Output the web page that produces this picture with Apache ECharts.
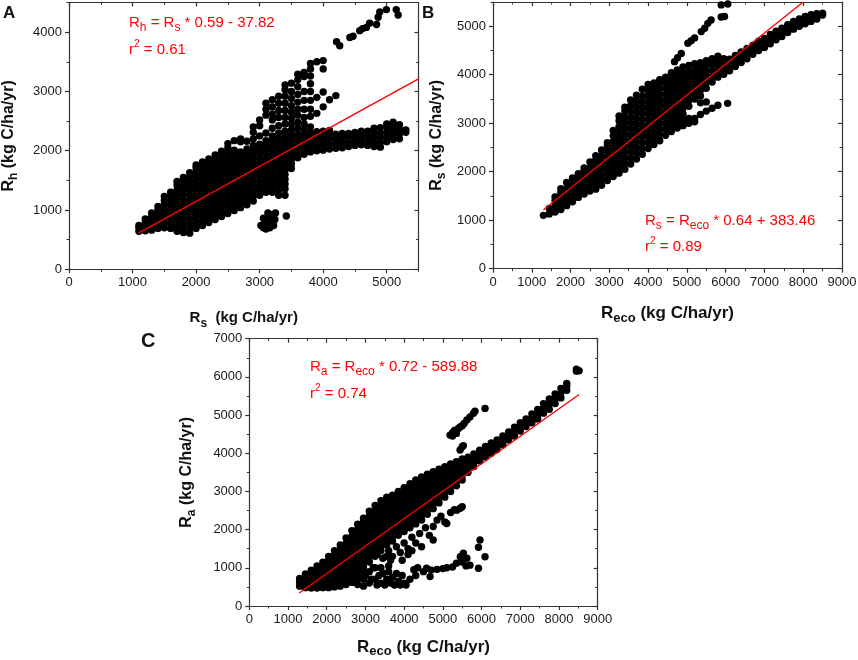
<!DOCTYPE html>
<html><head><meta charset="utf-8">
<script src="https://cdn.jsdelivr.net/npm/echarts@6/dist/echarts.min.js"></script>
<style>html,body{margin:0;padding:0;background:#fff}#c{width:858px;height:660px}</style>
</head><body><div id="c"></div>
<script>
// ---------- tick labels ----------
const aXTicks = [0, 1000, 2000, 3000, 4000, 5000];
const aYTicks = [0, 1000, 2000, 3000, 4000];
const bXTicks = [0, 1000, 2000, 3000, 4000, 5000, 6000, 7000, 8000, 9000];
const bYTicks = [0, 1000, 2000, 3000, 4000, 5000];
const cXTicks = [0, 1000, 2000, 3000, 4000, 5000, 6000, 7000, 8000, 9000];
const cYTicks = [0, 1000, 2000, 3000, 4000, 5000, 6000, 7000];

// ---------- Panel A : Rs (x) vs Rh (y); columns [x, y, y, ...] ----------
const aMain = [
 [1100, 640, 700, 740],
 [1200, 650, 720, 790, 850],
 [1300, 660, 730, 800, 880, 950],
 [1400, 690, 760, 840, 920, 1000, 1060],
 [1500, 700, 780, 860, 940, 1010, 1090, 1160, 1230],
 [1600, 690, 770, 850, 920, 1000, 1080, 1150, 1230, 1300],
 [1700, 640, 720, 800, 880, 950, 1030, 1110, 1190, 1270, 1340, 1420, 1480],
 [1800, 620, 700, 780, 860, 940, 1020, 1100, 1180, 1260, 1340, 1410, 1490, 1550],
 [1900, 610, 690, 770, 850, 930, 1010, 1090, 1170, 1250, 1330, 1410, 1480, 1560, 1630],
 [2000, 690, 770, 850, 930, 1000, 1080, 1160, 1240, 1320, 1400, 1470, 1550, 1630, 1710, 1760],
 [2100, 740, 820, 900, 980, 1060, 1140, 1210, 1290, 1370, 1450, 1530, 1600, 1680, 1760, 1810],
 [2200, 790, 870, 950, 1030, 1110, 1190, 1260, 1340, 1420, 1500, 1580, 1650, 1730, 1810, 1860],
 [2300, 840, 920, 1000, 1080, 1160, 1240, 1310, 1390, 1470, 1550, 1630, 1700, 1780, 1860, 1930],
 [2400, 890, 970, 1050, 1130, 1210, 1290, 1360, 1440, 1520, 1600, 1680, 1750, 1830, 1910, 1990],
 [2500, 940, 1020, 1100, 1180, 1260, 1340, 1410, 1490, 1570, 1650, 1730, 1800, 1880, 1960, 2050, 2120],
 [2600, 990, 1070, 1150, 1230, 1310, 1390, 1460, 1540, 1620, 1700, 1780, 1850, 1930, 2010, 2170],
 [2700, 1040, 1120, 1200, 1280, 1360, 1440, 1510, 1590, 1670, 1750, 1830, 1900, 1980, 2150, 2200],
 [2800, 1090, 1170, 1250, 1330, 1410, 1490, 1560, 1640, 1720, 1800, 1880, 1950, 2030, 2160],
 [2900, 1150, 1230, 1310, 1390, 1470, 1550, 1620, 1700, 1780, 1860, 1940, 2010, 2090, 2200],
 [3000, 1250, 1330, 1410, 1490, 1570, 1640, 1720, 1800, 1880, 1960, 2040, 2110, 2250],
 [3100, 1300, 1380, 1460, 1540, 1620, 1700, 1770, 1850, 1930, 2010, 2090, 2170, 2300],
 [3200, 1300, 1380, 1460, 1540, 1620, 1700, 1780, 1850, 1930, 2010, 2090, 2170, 2250, 2380],
 [3300, 1250, 1330, 1410, 1490, 1570, 1650, 1730, 1810, 1880, 1960, 2040, 2120, 2200, 2300, 2420],
 [3400, 1250, 1360, 1440, 1520, 1600, 1680, 1760, 1840, 1920, 2000, 2080, 2160, 2240, 2330, 2450, 2560],
 [3500, 1700, 1780, 1860, 1940, 2020, 2100, 2180, 2260, 2350, 2450, 2550, 2650],
 [3600, 1880, 1960, 2040, 2120, 2200, 2280, 2380, 2480, 2600, 2700],
 [3700, 1940, 2020, 2100, 2180, 2260, 2350, 2450, 2560],
 [3800, 1980, 2060, 2140, 2220, 2300, 2400, 2580],
 [3900, 2000, 2080, 2160, 2240, 2320, 2630],
 [4000, 2010, 2090, 2170, 2250, 2330, 2740],
 [4100, 2030, 2110, 2190, 2270, 2340, 2860],
 [4200, 2040, 2120, 2200, 2280, 2930],
 [4300, 2050, 2130, 2210, 2290],
 [4400, 2070, 2150, 2230, 2290],
 [4500, 2090, 2170, 2250, 2310],
 [4600, 2100, 2180, 2260, 2330],
 [4700, 2090, 2170, 2250, 2330],
 [4800, 2070, 2150, 2230, 2310, 2380],
 [4900, 2060, 2140, 2220, 2300, 2390],
 [5000, 2150, 2230, 2310, 2400, 2450],
 [5100, 2190, 2270, 2350, 2430, 2480],
 [5200, 2200, 2280, 2360, 2440],
 [5300, 2310, 2350]
];
const aBranch = [
 [2900, 2310, 2400],
 [3000, 2420, 2520],
 [3100, 2600, 2700, 2800],
 [3200, 2520, 2620, 2740, 2860],
 [3300, 2560, 2680, 2800, 2920],
 [3400, 2680, 2800, 2920, 3030, 3110],
 [3500, 2760, 2880, 3000, 3140],
 [3600, 2820, 2950, 3080, 3200, 3290],
 [3700, 2700, 2850, 3000, 3250, 3320],
 [3800, 2700, 2850, 3000, 3130, 3260, 3380, 3470],
 [3900, 2900, 3500],
 [4000, 2990, 3380, 3520]
];
const aUpper = [[4210,3840],[4260,3770],[4420,3910],[4470,3930],[4575,4025],[4620,4060],[4680,4080],
 [4730,4150],[4840,4130],[4865,4250],[4890,4340],[4995,4380],[5150,4380],[5180,4290]];
const aLow = [[3020,740],[3060,700],[3080,800],[3100,680],[3120,760],[3140,880],[3160,700],[3180,800],
 [3200,920],[3220,740],[3240,840],[3250,950],[3130,950],[3060,860],[3420,900]];
const aFit = [[1100, 615], [5500, 3210]];

// ---------- Panel B : Reco (x) vs Rs (y) ----------
const bMain = [
 [1300, 1100],
 [1450, 1130, 1240],
 [1600, 1170, 1290, 1400, 1480],
 [1750, 1220, 1340, 1460, 1570, 1650],
 [1900, 1300, 1420, 1540, 1660, 1780],
 [2050, 1380, 1500, 1620, 1740, 1870],
 [2200, 1470, 1590, 1710, 1830, 1960],
 [2350, 1540, 1660, 1780, 1900, 2020, 2080],
 [2500, 1600, 1720, 1840, 1960, 2080, 2200],
 [2650, 1640, 1760, 1880, 2000, 2120, 2240, 2330],
 [2800, 1720, 1840, 1960, 2080, 2200, 2320, 2450],
 [2950, 1820, 1940, 2060, 2180, 2300, 2420, 2540, 2600],
 [3100, 1900, 2020, 2140, 2260, 2380, 2500, 2620, 2740, 2850],
 [3250, 1970, 2090, 2210, 2330, 2450, 2570, 2690, 2810, 2930, 3050, 3150],
 [3400, 2050, 2170, 2290, 2410, 2530, 2650, 2770, 2890, 3010, 3130, 3250, 3330],
 [3550, 2160, 2280, 2400, 2520, 2640, 2760, 2880, 3000, 3120, 3240, 3360, 3480],
 [3700, 2260, 2380, 2500, 2620, 2740, 2860, 2980, 3100, 3220, 3340, 3460, 3580],
 [3850, 2360, 2480, 2600, 2720, 2840, 2960, 3080, 3200, 3320, 3440, 3560, 3700],
 [4000, 2480, 2600, 2720, 2840, 2960, 3080, 3200, 3320, 3440, 3560, 3680, 3800],
 [4150, 2560, 2680, 2800, 2920, 3040, 3160, 3280, 3400, 3520, 3640, 3760, 3830],
 [4300, 2640, 2760, 2880, 3000, 3120, 3240, 3360, 3480, 3600, 3720, 3840, 3900],
 [4450, 2750, 2870, 2990, 3110, 3230, 3350, 3470, 3590, 3710, 3830, 3950],
 [4600, 2830, 2950, 3070, 3190, 3310, 3430, 3550, 3670, 3790, 3910, 4040],
 [4750, 2900, 3020, 3140, 3260, 3380, 3500, 3620, 3740, 3860, 3980, 4100],
 [4900, 2950, 3070, 3190, 3310, 3430, 3550, 3670, 3790, 3910, 4030, 4160],
 [5050, 3000, 3100, 3350, 3470, 3590, 3710, 3830, 3950, 4070, 4190],
 [5200, 3030, 3100, 3500, 3620, 3740, 3860, 3980, 4100, 4230],
 [5350, 3180, 3420, 3560, 3680, 3800, 3920, 4040, 4160, 4250],
 [5500, 3250, 3440, 3720, 3840, 3960, 4080, 4200, 4290],
 [5650, 3310, 3850, 3970, 4090, 4210, 4330],
 [5800, 3370, 3950, 4070, 4190, 4300, 4380],
 [5950, 4010, 4130, 4250, 4330],
 [6050, 3410],
 [6100, 4080, 4200, 4320],
 [6250, 4170, 4290, 4400],
 [6400, 4250, 4370, 4470],
 [6550, 4330, 4440, 4540],
 [6700, 4420, 4520, 4610],
 [6850, 4500, 4600, 4690],
 [7000, 4560, 4660, 4750],
 [7150, 4640, 4740, 4830],
 [7300, 4720, 4810, 4900],
 [7450, 4790, 4880, 4960],
 [7600, 4870, 4960, 5030],
 [7750, 4940, 5020, 5100],
 [7900, 5000, 5080, 5150],
 [8050, 5050, 5130, 5200],
 [8200, 5100, 5170, 5240],
 [8350, 5150, 5220, 5260],
 [8500, 5230, 5270]
];
const bUpper = [[4680,4270],[4760,4350],[4855,4440],[5025,4650],[5110,4700],[5200,4760],[5370,4890],
 [5460,4960],[5540,5060],[5625,5130],[5885,5190],[5970,5200],[5885,5440],[6055,5460]];
const bFit = [[1300, 1215], [8000, 5500]];

// ---------- Panel C : Reco (x) vs Ra (y) ----------
const cMain = [
 [1300, 520, 620, 720],
 [1450, 480, 600, 720, 840],
 [1600, 470, 590, 710, 830, 940],
 [1750, 470, 590, 710, 830, 950, 1050],
 [1900, 480, 600, 720, 840, 960, 1080, 1150],
 [2050, 480, 600, 720, 840, 960, 1080, 1200, 1300],
 [2200, 500, 620, 740, 860, 980, 1100, 1220, 1340, 1450],
 [2350, 520, 640, 760, 880, 1000, 1120, 1240, 1360, 1480, 1600],
 [2500, 560, 680, 800, 920, 1040, 1160, 1280, 1400, 1520, 1640, 1780],
 [2650, 620, 740, 860, 980, 1100, 1220, 1340, 1460, 1580, 1700, 1820, 1970],
 [2800, 560, 700, 820, 940, 1060, 1180, 1300, 1420, 1540, 1660, 1780, 1900, 2020, 2140],
 [2950, 520, 700, 860, 1000, 1120, 1240, 1360, 1480, 1600, 1720, 1840, 1960, 2080, 2200, 2300],
 [3100, 600, 900, 1150, 1270, 1390, 1510, 1630, 1750, 1870, 1990, 2110, 2230, 2350, 2480],
 [3250, 1000, 1300, 1420, 1540, 1660, 1780, 1900, 2020, 2140, 2260, 2380, 2500, 2630],
 [3400, 1450, 1570, 1690, 1810, 1930, 2050, 2170, 2290, 2410, 2530, 2650, 2760],
 [3550, 1600, 1720, 1840, 1960, 2080, 2200, 2320, 2440, 2560, 2680, 2800, 2850],
 [3700, 1700, 1820, 1940, 2060, 2180, 2300, 2420, 2540, 2660, 2780, 2900],
 [3850, 1850, 1970, 2090, 2210, 2330, 2450, 2570, 2690, 2810, 2930, 3000],
 [4000, 1950, 2070, 2190, 2310, 2430, 2550, 2670, 2790, 2910, 3030, 3100],
 [4150, 2050, 2170, 2290, 2410, 2530, 2650, 2770, 2890, 3010, 3130, 3200],
 [4300, 2150, 2270, 2390, 2510, 2630, 2750, 2870, 2990, 3110, 3230, 3300],
 [4450, 2250, 2370, 2490, 2610, 2730, 2850, 2970, 3090, 3210, 3330, 3380],
 [4600, 2400, 2520, 2640, 2760, 2880, 3000, 3120, 3240, 3360, 3450],
 [4750, 2550, 2670, 2790, 2910, 3030, 3150, 3270, 3390, 3520],
 [4900, 2700, 2820, 2940, 3060, 3180, 3300, 3420, 3580],
 [5050, 2850, 2970, 3090, 3210, 3330, 3450, 3550, 3650],
 [5200, 3000, 3120, 3240, 3360, 3480, 3600, 3720],
 [5350, 3150, 3270, 3390, 3510, 3630, 3780],
 [5500, 3300, 3420, 3540, 3660, 3780, 3850],
 [5650, 3500, 3620, 3740, 3900],
 [5800, 3650, 3770, 3880, 3980],
 [5950, 3800, 3920, 4030, 4080],
 [6100, 3900, 4020, 4120, 4180],
 [6250, 4000, 4120, 4220, 4270],
 [6400, 4100, 4220, 4350],
 [6550, 4220, 4340, 4450],
 [6700, 4350, 4460, 4560],
 [6850, 4450, 4570, 4680],
 [7000, 4580, 4690, 4800],
 [7150, 4700, 4800, 4900],
 [7300, 4800, 4920, 5030],
 [7450, 4900, 5030, 5150],
 [7600, 5050, 5180, 5300],
 [7750, 5150, 5290, 5420],
 [7900, 5300, 5430, 5550],
 [8050, 5450, 5580, 5700],
 [8200, 5650, 5760, 5830],
 [8450, 6150, 6200],
 [8520, 6160]
];
const cBelow = [[3300,1350],[3450,1250],[3550,1300],[3600,1450],[3650,1200],[3700,1300],[3800,1550],
 [3900,1400],[3950,1200],[4000,1650],[4100,1500],[4100,1350],[4200,1800],[4200,1450],[4300,1650],
 [4400,1900],[4450,1550],[4550,2050],[4650,1850],[4750,1730],[4750,2080],[4850,2250],[4950,2350],
 [5050,2200],[5100,2160],[5200,2450],[5300,2520],[5360,2510],[5450,2560],[5500,2600]];
const cLow = [[2700,620],[2850,760],[3000,800],[3150,700],[3200,1000],[3250,700],[3300,550],[3350,800],
 [3400,600],[3400,1000],[3450,850],[3500,550],[3550,700],[3600,900],[3600,1050],[3650,600],[3700,750],
 [3750,550],[3800,850],[3850,650],[3900,550],[3950,800],[4000,600],[4050,550],[4150,700],[4250,950],
 [4300,800],[4350,1000],[4500,900],[4580,990],[4670,770],[4700,940],[4850,960],[5000,980],[5100,1000],
 [5250,1020],[5350,1120],[5450,1290],[5500,1150],[5530,1380],[5600,1050],[5620,1250],[5700,1070],
 [5920,990],[5920,1540],[5960,1730],[6090,1290]];
const cUpper = [[5185,4475],[5250,4450],[5250,4540],[5300,4600],[5350,4520],[5350,4600],[5400,4650],
 [5445,4690],[5500,4720],[5550,4780],[5620,4870],[5700,4950],[5790,5045],[5830,5100],[6090,5175],
 [5445,4085],[5500,4170],[5530,4200]];
const cFit = [[1290, 340], [8520, 5540]];

// ---------- helpers ----------
const F = 'Liberation Sans, Arial, sans-serif';
const AX = '#333';
const RED = '#ff0000';
function flat(cols) { const out = []; for (const c of cols) for (let i = 1; i < c.length; i++) out.push([c[0], c[i]]); return out; }

function nameStyle(size, sub) {
  return { rich: {
    b: { fontFamily: F, fontWeight: 'bold', fontSize: size, color: '#111', lineHeight: 22, verticalAlign: 'middle' },
    s: { fontFamily: F, fontWeight: 'bold', fontSize: sub, color: '#111', lineHeight: sub, verticalAlign: 'bottom' }
  } };
}
function axes(dim, grid, min, max, ticks, name, gap, size, sub) {
  const main = pos => ({
    type: 'value', gridIndex: grid, min: min, max: max, interval: 1000, position: pos,
    axisLine: { show: true, onZero: false, lineStyle: { color: AX, width: 1.2 } },
    axisTick: { show: true, inside: pos === 'top' || pos === 'right', length: 4, customValues: ticks, lineStyle: { color: AX, width: 1.2 } },
    axisLabel: { show: pos === 'bottom' || pos === 'left', customValues: ticks, margin: 7, fontFamily: F, fontSize: 13, color: '#1a1a1a',
      formatter: v => String(v) },
    splitLine: { show: false }, minorTick: { show: false }
  });
  const minor = pos => ({
    type: 'value', gridIndex: grid, min: min, max: max, interval: 500, position: pos,
    axisLine: { show: false, onZero: false },
    axisTick: { show: true, inside: pos === 'top' || pos === 'right', length: 2.5, lineStyle: { color: AX, width: 1 } },
    axisLabel: { show: false }, splitLine: { show: false }
  });
  const p = dim === 'x' ? ['bottom', 'top'] : ['left', 'right'];
  const m1 = main(p[0]);
  Object.assign(m1, { name: name, nameLocation: 'middle', nameGap: gap, nameMoveOverlap: false, nameTextStyle: nameStyle(size, sub) });
  return [m1, minor(p[0]), main(p[1]), minor(p[1])];
}
function redRich() {
  return {
    m: { fontFamily: F, fontSize: 15, fill: RED, lineHeight: 22, verticalAlign: 'middle' },
    s: { fontFamily: F, fontSize: 12, fill: RED, lineHeight: 12, verticalAlign: 'bottom' },
    p: { fontFamily: F, fontSize: 10, fill: RED, lineHeight: 10, verticalAlign: 'top' }
  };
}
function redText(x, y, t) {
  return { type: 'text', x: x, y: y, z: 100, style: { text: t, rich: redRich(), fill: RED, font: '15px ' + F, verticalAlign: 'middle', align: 'left' } };
}
function letter(x, y, t, size) {
  return { type: 'text', x: x, y: y, z: 100, style: { text: t, fill: '#111', font: 'bold ' + size + 'px ' + F, verticalAlign: 'middle', align: 'left' } };
}
const dot = { type: 'scatter', symbol: 'circle', symbolSize: 7.4, itemStyle: { color: '#000', opacity: 1, borderWidth: 0 }, silent: true, z: 2 };
const fitLine = { type: 'line', showSymbol: false, symbol: 'none', silent: true, lineStyle: { color: RED, width: 1.4 }, z: 3 };

const option = {
  animation: false,
  backgroundColor: '#fff',
  grid: [
    { left: 69, top: 2.5, width: 349.5, height: 266.8, containLabel: false, outerBoundsMode: 'none' },
    { left: 493, top: 2, width: 349, height: 266.7, containLabel: false, outerBoundsMode: 'none' },
    { left: 249.3, top: 338.7, width: 348.4, height: 267.3, containLabel: false, outerBoundsMode: 'none' }
  ],
  xAxis: [].concat(
    axes('x', 0, 0, 5500, aXTicks, '{b|R}{s|s}{b|  (kg C/ha/yr)}', 38, 15, 12),
    axes('x', 1, 0, 9000, bXTicks, '{b|R}{s|eco}{b| (kg C/ha/yr)}', 34, 17, 13),
    axes('x', 2, 0, 9000, cXTicks, '{b|R}{s|eco}{b| (kg C/ha/yr)}', 30, 17, 13)
  ),
  yAxis: [].concat(
    axes('y', 0, 0, 4500, aYTicks, '{b|R}{s|h}{b| (kg C/ha/yr)}', 49, 16, 12),
    axes('y', 1, 0, 5500, bYTicks, '{b|R}{s|s}{b| (kg C/ha/yr)}', 45, 16, 12),
    axes('y', 2, 0, 7000, cYTicks, '{b|R}{s|a}{b| (kg C/ha/yr)}', 52, 16, 12)
  ),
  series: [
    Object.assign({}, dot, { xAxisIndex: 0, yAxisIndex: 0, data: flat(aMain).concat(flat(aBranch), aUpper, aLow) }),
    Object.assign({}, fitLine, { xAxisIndex: 0, yAxisIndex: 0, data: aFit }),
    Object.assign({}, dot, { xAxisIndex: 4, yAxisIndex: 4, data: flat(bMain).concat(bUpper) }),
    Object.assign({}, fitLine, { xAxisIndex: 4, yAxisIndex: 4, data: bFit }),
    Object.assign({}, dot, { xAxisIndex: 8, yAxisIndex: 8, data: flat(cMain).concat(cBelow, cLow, cUpper) }),
    Object.assign({}, fitLine, { xAxisIndex: 8, yAxisIndex: 8, data: cFit })
  ],
  graphic: [
    letter(3, 13, 'A', 17), letter(422, 13, 'B', 17), letter(141, 341, 'C', 20),
    redText(129, 23, '{m|R}{s|h}{m| = R}{s|s}{m| * 0.59 - 37.82}'),
    redText(129, 50, '{m|r}{p|2}{m| = 0.61}'),
    redText(645, 221, '{m|R}{s|s}{m| = R}{s|eco}{m| * 0.64 + 383.46}'),
    redText(645, 247, '{m|r}{p|2}{m| = 0.89}'),
    redText(310, 367, '{m|R}{s|a}{m| = R}{s|eco}{m| * 0.72 - 589.88}'),
    redText(310, 394, '{m|r}{p|2}{m| = 0.74}')
  ]
};
const chart = echarts.init(document.getElementById('c'), null, { renderer: 'canvas' });
chart.setOption(option);
</script></body></html>
